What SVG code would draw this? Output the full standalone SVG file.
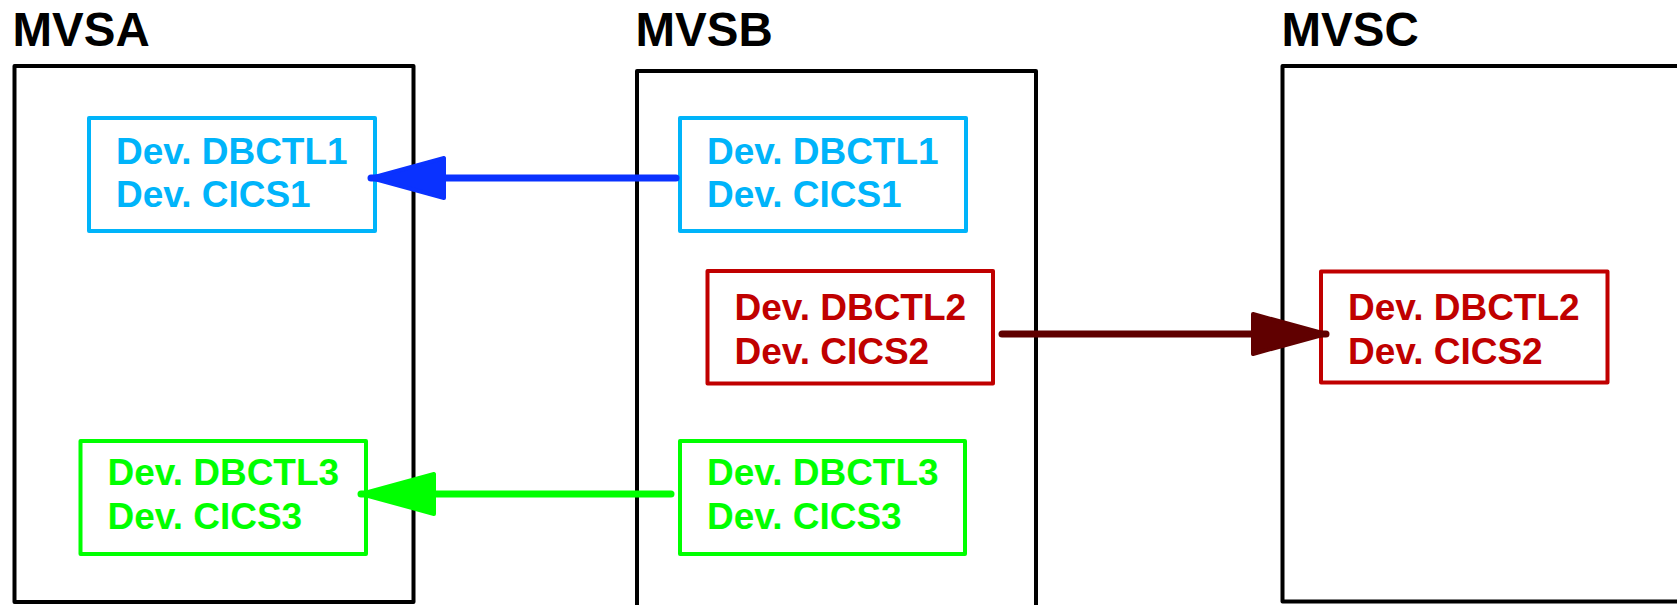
<svg xmlns="http://www.w3.org/2000/svg" width="1677" height="605" viewBox="0 0 1677 605">
<style>
.sys{fill:none;stroke:#000;stroke-width:4;stroke-linejoin:round}
.title{font-family:"Liberation Sans",Arial,sans-serif;font-weight:bold;font-size:47.5px;fill:#000}
.lbl{font-family:"Liberation Sans",Arial,sans-serif;font-weight:bold;font-size:37px}
.box{fill:none;stroke-width:4;stroke-linejoin:round}
.blue .box{stroke:#00B4FA}.blue text{fill:#00B4FA}
.red .box{stroke:#C00000}.red text{fill:#C00000}
.green .box{stroke:#00FF00}.green text{fill:#00FF00}
.conn{fill:none;stroke-width:7;stroke-linecap:round}
</style>
<defs>
<marker id="ahBlue" markerUnits="userSpaceOnUse" viewBox="-4 -4 81 48" markerWidth="81" markerHeight="48" refX="73" refY="20" orient="auto">
<path d="M0,0 L73,20 L0,40 Z" fill="#0A32FF" stroke="#0A32FF" stroke-width="4" stroke-linejoin="round"/>
</marker>
<marker id="ahRed" markerUnits="userSpaceOnUse" viewBox="-4 -4 81 48" markerWidth="81" markerHeight="48" refX="73" refY="20" orient="auto">
<path d="M0,0 L73,20 L0,40 Z" fill="#600000" stroke="#600000" stroke-width="4" stroke-linejoin="round"/>
</marker>
<marker id="ahGreen" markerUnits="userSpaceOnUse" viewBox="-4 -4 81 48" markerWidth="81" markerHeight="48" refX="73" refY="20" orient="auto">
<path d="M0,0 L73,20 L0,40 Z" fill="#00FF00" stroke="#00FF00" stroke-width="4" stroke-linejoin="round"/>
</marker>
</defs>
<rect width="1677" height="605" fill="#fff"/>
<g id="mvsa">
<text class="title" x="12.5" y="46">MVSA</text>
<rect class="sys" x="14.5" y="66" width="399" height="536"/>
</g>
<g id="mvsb">
<text class="title" x="635.5" y="46">MVSB</text>
<rect class="sys" x="637" y="71" width="399" height="620"/>
</g>
<g id="mvsc">
<text class="title" x="1281.5" y="46">MVSC</text>
<rect class="sys" x="1282.5" y="66" width="440" height="535.5"/>
</g>
<g id="a1" class="blue">
<rect class="box" x="89" y="118" width="286" height="113"/>
<text class="lbl" x="116" y="164">Dev. DBCTL1</text>
<text class="lbl" x="116" y="207">Dev. CICS1</text>
</g>
<g id="b1" class="blue">
<rect class="box" x="680" y="118" width="286" height="113"/>
<text class="lbl" x="707" y="164">Dev. DBCTL1</text>
<text class="lbl" x="707" y="207">Dev. CICS1</text>
</g>
<g id="b2" class="red">
<rect class="box" x="707.5" y="271" width="285.5" height="112.5"/>
<text class="lbl" x="734.5" y="320">Dev. DBCTL2</text>
<text class="lbl" x="734.5" y="364">Dev. CICS2</text>
</g>
<g id="c2" class="red">
<rect class="box" x="1321" y="271.5" width="286.5" height="111"/>
<text class="lbl" x="1348" y="320">Dev. DBCTL2</text>
<text class="lbl" x="1348" y="364">Dev. CICS2</text>
</g>
<g id="a3" class="green">
<rect class="box" x="80.5" y="441" width="285.5" height="113"/>
<text class="lbl" x="107.5" y="485">Dev. DBCTL3</text>
<text class="lbl" x="107.5" y="529">Dev. CICS3</text>
</g>
<g id="b3" class="green">
<rect class="box" x="680" y="441" width="285" height="113"/>
<text class="lbl" x="707" y="485">Dev. DBCTL3</text>
<text class="lbl" x="707" y="529">Dev. CICS3</text>
</g>
<g id="connectors">
<path class="conn" d="M676,178 L371,178" stroke="#0A32FF" marker-end="url(#ahBlue)"/>
<path class="conn" d="M1002,334 L1326,334" stroke="#600000" marker-end="url(#ahRed)"/>
<path class="conn" d="M671,494 L361,494" stroke="#00FF00" marker-end="url(#ahGreen)"/>
</g>
</svg>
